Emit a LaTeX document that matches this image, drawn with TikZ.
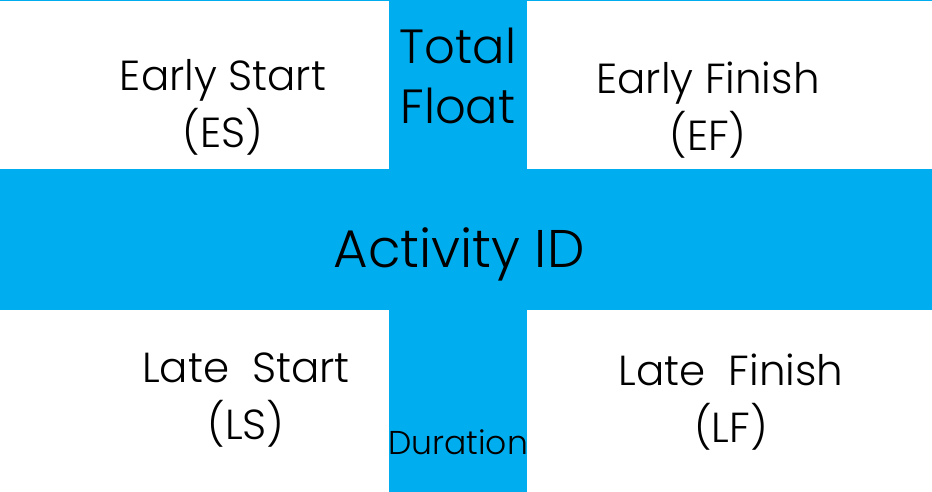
\documentclass[tikz,border=0pt]{standalone}
\usepackage{fontspec}
\setmainfont{Poppins}[UprightFont=* Light]
\definecolor{crossblue}{HTML}{00AEEF}

\begin{document}
\begin{tikzpicture}[
  x=0.5pt, y=-0.5pt,
  band/.style={fill=crossblue},
  cell/.style={align=center, inner sep=0pt, font=\fontsize{21}{28.5}\selectfont},
  float/.style={align=center, inner sep=0pt, font=\fontsize{24}{30}\selectfont},
  idtext/.style={inner sep=0pt, anchor=base, font=\fontsize{26.5}{30}\selectfont},
  durtext/.style={inner sep=0pt, anchor=base, font=\fontsize{16.5}{20}\selectfont},
]
\useasboundingbox (0,0) rectangle (932,492);

% the cross
\fill[band] (0,0) rectangle (932,1.5);
\fill[band] (389,0) rectangle (527,492);
\fill[band] (0,169) rectangle (932,310);

% upper corners
\node[cell] (es) at (223,107) {Early Start\\(ES)};
\node[float] (tf) at (458,76) {Total\\Float};
\node[cell] (ef) at (708,110) {Early Finish\\(EF)};

% middle bar
\node[idtext] (id) at (459,267) {Activity ID};

% lower corners
\node[cell] (ls) at (246,400) {Late~~Start\\(LS)};
\node[durtext] (dur) at (458,454) {Duration};
\node[cell] (lf) at (731,402) {Late~~Finish\\(LF)};

\end{tikzpicture}
\end{document}
